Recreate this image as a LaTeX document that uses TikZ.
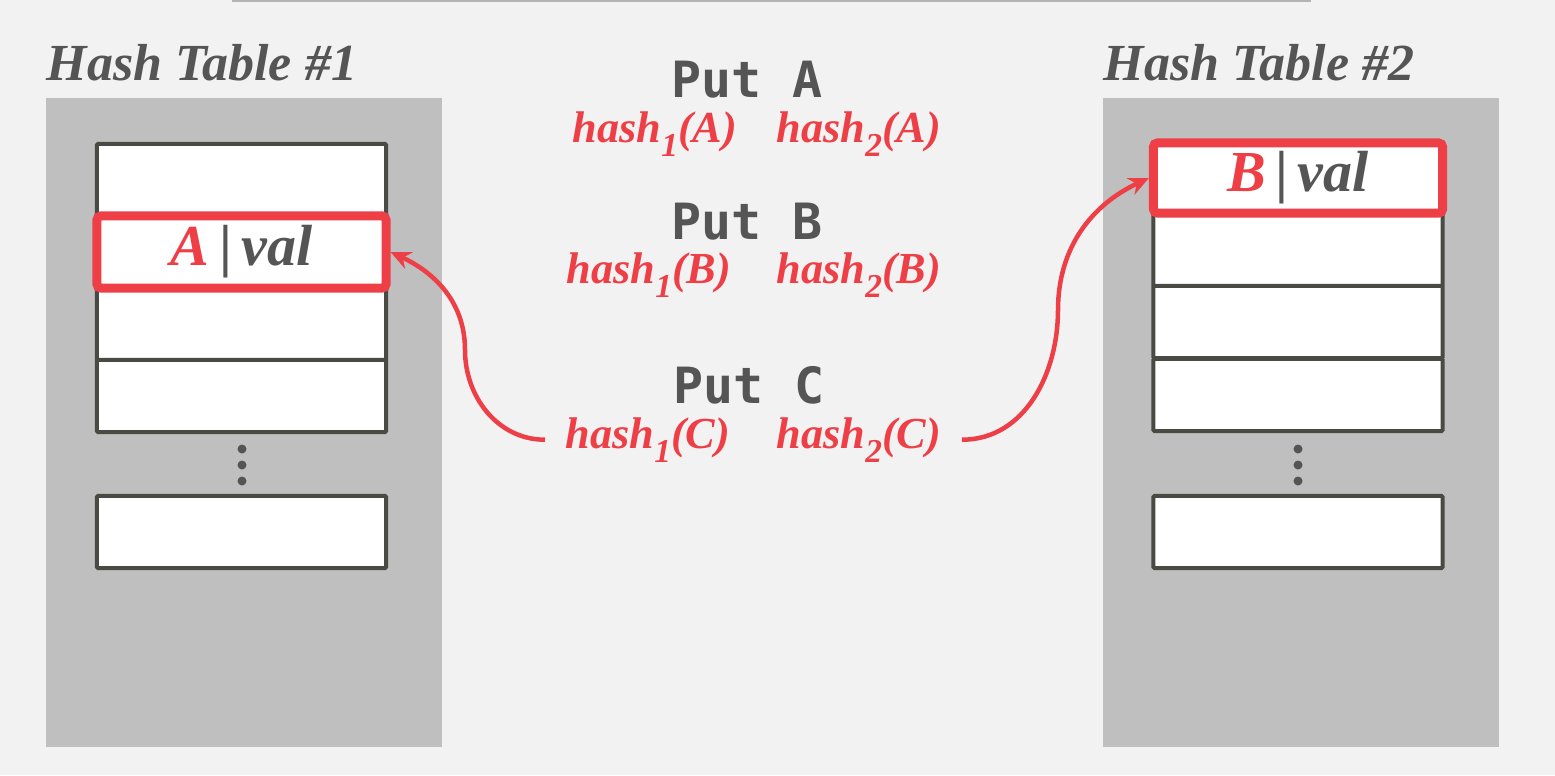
\documentclass[tikz,border=0pt]{standalone}
\usepackage{xcolor}
\usepackage{tikz}
\usepackage{fontspec}
\setmainfont{Liberation Serif}
\setmonofont{DejaVu Sans Mono}
\usetikzlibrary{arrows.meta}

\definecolor{slidebg}{HTML}{F2F2F2}
\definecolor{panelgray}{HTML}{BFBFBF}
\definecolor{slotline}{HTML}{4A4A45}
\definecolor{textgray}{HTML}{555555}
\definecolor{hashred}{HTML}{EE3F46}
\definecolor{rulegray}{HTML}{B4B4B4}

% hash_i(X) with a low subscript
\newcommand{\hashof}[2]{hash\raisebox{-0.32em}{\fontsize{9.5}{10}\selectfont #1}(#2)}

\begin{document}
\begin{tikzpicture}[
        x=0.01cm, y=0.01cm,
        panel/.style={fill=panelgray, draw=none},
        slot/.style={draw=slotline, fill=white, line width=0.04cm, rounded corners=0.01cm,
            minimum width=2.89cm, minimum height=0.72cm, inner sep=0pt},
        hotslot/.style={slot, draw=hashred, line width=0.09cm, rounded corners=0.04cm,
            font=\fontsize{16.5}{18}\selectfont\bfseries\itshape, text=textgray},
        title/.style={anchor=base west, inner sep=0pt, text=textgray,
            font=\fontsize{14.8}{16}\selectfont\bfseries\itshape},
        put/.style={anchor=base, inner sep=0pt, text=textgray,
            font=\fontsize{14.2}{16}\selectfont\ttfamily\bfseries},
        hash/.style={anchor=base west, inner xsep=0.2cm, inner ysep=0pt, text=hashred,
            font=\fontsize{12.6}{15}\selectfont\bfseries\itshape},
        dot/.style={circle, fill=textgray, inner sep=0pt, minimum size=0.09cm},
        link/.style={draw=hashred, line width=0.045cm, -{Stealth[length=0.2cm,width=0.18cm]}},
    ]
        % Slide background
        \fill[slidebg] (0,0) rectangle (1555,-775);
        \useasboundingbox (0,0) rectangle (1555,-775);
        \draw[rulegray, line width=0.02cm] (232,-1) -- (1311,-1);

        % Define panels and titles
        \fill[panel] (46,-98) rectangle (442,-747);
        \fill[panel] (1103,-98) rectangle (1499,-747);
        \node[title] (t1) at (46,-80) {Hash Table \#1};
        \node[title] (t2) at (1103,-80) {Hash Table \#2};

        % Left table slots
        \node[slot] (l1) at (241.5,-180) {};
        \node[slot] (l3) at (241.5,-324) {};
        \node[slot] (l4) at (241.5,-396) {};
        \node[slot] (l5) at (241.5,-532) {};
        \node[hotslot] (l2) at (241.5,-252) {\textcolor{hashred}{A}\,\textup{|}\,val};
        \node[dot] (ld1) at (242,-449) {};
        \node[dot] (ld2) at (242,-465) {};
        \node[dot] (ld3) at (242,-481) {};

        % Right table slots
        \node[slot] (r2) at (1298,-250) {};
        \node[slot] (r3) at (1298,-322) {};
        \node[slot] (r4) at (1298,-395) {};
        \node[slot] (r5) at (1298,-532) {};
        \node[hotslot, minimum height=0.70cm] (r1) at (1298,-178) {\textcolor{hashred}{B}\,\textup{|}\,val};
        \node[dot] (rd1) at (1298,-449) {};
        \node[dot] (rd2) at (1298,-465) {};
        \node[dot] (rd3) at (1298,-481) {};

        % Operations
        \node[put] (pa) at (747,-97) {Put A};
        \node[hash] (h1a) at (552,-142) {\hashof{1}{A}};
        \node[hash] (h2a) at (756,-142) {\hashof{2}{A}};
        \node[put] (pb) at (747,-239) {Put B};
        \node[hash] (h1b) at (546,-283) {\hashof{1}{B}};
        \node[hash] (h2b) at (756,-283) {\hashof{2}{B}};
        \node[put] (pc) at (749,-403) {Put C};
        \node[hash] (h1c) at (545,-448) {\hashof{1}{C}};
        \node[hash] (h2c) at (756,-448) {\hashof{2}{C}};

        % Define arrows
        \coordinate (bendL) at (465,-350);
        \coordinate (bendR) at (1058,-310);
        \draw[link] (h1c.west) to[out=180,in=270] (bendL) to[out=90,in=-25] (l2.east);
        \draw[link] (h2c.east) to[out=0,in=270] (bendR) to[out=90,in=205] (r1.west);
    \end{tikzpicture}
\end{document}
